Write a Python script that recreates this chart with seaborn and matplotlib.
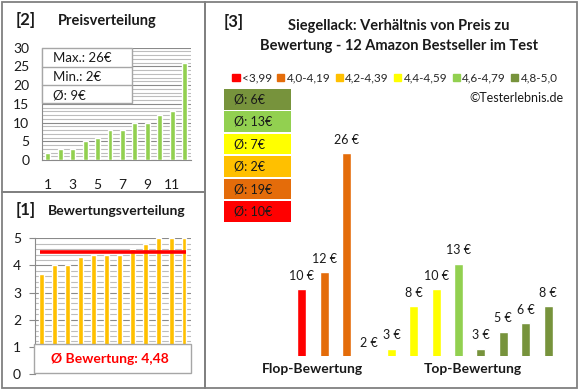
import matplotlib
matplotlib.use("Agg")
import matplotlib.pyplot as plt
import matplotlib.patches as mpatches
import pandas as pd
import seaborn as sns

# ratings of the 12 products (sorted) and their prices in the same order
ratings = [3.7, 4.0, 4.0, 4.3, 4.4, 4.4, 4.4, 4.6, 4.8, 5.0, 5.0, 5.0]
prices = [10, 12, 26, 2, 3, 8, 10, 13, 3, 5, 6, 8]
groups = ['<3,99', '4,0-4,19', '4,0-4,19', '4,2-4,39', '4,4-4,59', '4,4-4,59',
          '4,4-4,59', '4,6-4,79', '4,8-5,0', '4,8-5,0', '4,8-5,0', '4,8-5,0']
group_names = ['<3,99', '4,0-4,19', '4,2-4,39', '4,4-4,59', '4,6-4,79', '4,8-5,0']
group_colors = ['#ff0000', '#e46c0a', '#ffc000', '#ffff00', '#92d050', '#77933c']
avg_rating_text = '4,48'
price_ticks = [1, 3, 5, 7, 9, 11]

sns.set_style('white')
plt.rcParams['font.family'] = ['Lato', 'DejaVu Sans']

W, H = 580, 390
fig = plt.figure(figsize=(5.8, 3.9), dpi=100)


def px(x0, y0, x1, y1):
    return [x0 / W, 1 - y1 / H, (x1 - x0) / W, (y1 - y0) / H]


palette = dict(zip(group_names, group_colors))
df = pd.DataFrame({'idx': range(12), 'rating': ratings, 'price': prices, 'group': groups})
grid_minor = '#bdbdbd'
grid_major = '#8a8a8a'
txt = '#1a1a1a'

# ---- [2] Preisverteilung
ax2 = fig.add_axes(px(41.7, 47.7, 190.7, 160))
sorted_prices = sorted(prices)
sns.barplot(x=list(range(1, 13)), y=sorted_prices, color='#92d050', width=0.4,
            saturation=1, ax=ax2, zorder=3)
ax2.set_ylim(0, 30)
ax2.set_xlim(-0.5, 11.5)
for v in range(31):
    ax2.axhline(v, color=grid_major if v % 5 == 0 else grid_minor, lw=0.8, zorder=1)
ax2.set_yticks(range(0, 31, 5))
ax2.set_xticks([t - 1 for t in price_ticks])
ax2.set_xticklabels([str(t) for t in price_ticks])
ax2.tick_params(axis='y', length=0, pad=9, labelsize=10, labelcolor=txt)
ax2.tick_params(axis='x', length=0, pad=14, labelsize=10, labelcolor=txt)
for s in ['top', 'right']:
    ax2.spines[s].set_visible(False)
for s in ['left', 'bottom']:
    ax2.spines[s].set_color('#8a8a8a')
    ax2.spines[s].set_linewidth(0.8)

# ---- [1] Bewertungsverteilung
ax1 = fig.add_axes(px(35, 238.3, 190.7, 374))
sns.barplot(data=df, x='idx', y='rating', color='#ffc000', width=0.38,
            saturation=1, ax=ax1, zorder=3)
ax1.set_ylim(0, 5)
ax1.set_xlim(-0.52, 11.52)
for i in range(26):
    v = i * 0.2
    ax1.axhline(v, color=grid_major if i % 5 == 0 else grid_minor, lw=0.8, zorder=1)
ax1.hlines(float(avg_rating_text.replace(',', '.')), -0.15, 11.15, color='#ff0000',
           lw=2.6, zorder=4)
ax1.set_yticks(range(0, 6))
ax1.set_xticks([])
ax1.set_xlabel('')
ax1.set_ylabel('')
ax1.tick_params(axis='y', length=4, width=0.8, color='#8a8a8a', pad=6, labelsize=10,
                labelcolor=txt, left=True)
for s in ['top', 'right', 'bottom']:
    ax1.spines[s].set_visible(False)
ax1.spines['left'].set_color('#8a8a8a')
ax1.spines['left'].set_linewidth(0.8)

# ---- [3] price vs rating
ax3 = fig.add_axes(px(280, 130, 570, 356))
sns.barplot(data=df, x='idx', y='price', hue='group', palette=palette, dodge=False,
            width=0.4, saturation=1, legend=False, ax=ax3)
ymin = 2.14
ax3.set_ylim(ymin, ymin + 226 / 8.5)
ax3.set_xlim(-0.98, 11.98)
ax3.axis('off')
for i, p in enumerate(prices):
    ax3.annotate(f'{p} €', xy=(i, max(p, ymin)), xytext=(0, 9.5), textcoords='offset points',
                 ha='center', va='center', fontsize=9, color=txt, annotation_clip=False)
handles = [mpatches.Patch(color=c, label=n) for n, c in zip(group_names, group_colors)]
ax3.legend(handles=handles, loc='center', bbox_to_anchor=(395 / W, 1 - 78 / H),
           bbox_transform=fig.transFigure, ncol=6, frameon=False, fontsize=8.5,
           handlelength=0.6, handleheight=0.6, handletextpad=0.2, columnspacing=0.45,
           borderpad=0, borderaxespad=0)

# ---- overlay: panel frames, headings and boxes
ov = fig.add_axes([0, 0, 1, 1], zorder=10)
ov.set_xlim(0, W)
ov.set_ylim(H, 0)
ov.axis('off')
frame = dict(fill=False, edgecolor='#808080', lw=1.3)
ov.add_patch(mpatches.Rectangle((1.5, 1.5), 203.5, 190.5, **frame))
ov.add_patch(mpatches.Rectangle((1.5, 192), 203.5, 196, **frame))
ov.add_patch(mpatches.Rectangle((205, 1.5), 372, 386.5, **frame))

ov.text(16, 20, '[2]', fontsize=12, fontweight='bold', va='center', color=txt)
ov.text(58, 21, 'Preisverteilung', fontsize=10.5, fontweight='bold', va='center', color=txt)
ov.text(16, 210, '[1]', fontsize=12, fontweight='bold', va='center', color=txt)
ov.text(48, 211, 'Bewertungsverteilung', fontsize=10, fontweight='bold', va='center', color=txt)
ov.text(224, 22, '[3]', fontsize=12, fontweight='bold', va='center', color=txt)
ov.text(399, 26, 'Siegellack: Verhältnis von Preis zu', fontsize=10.5, fontweight='bold',
        ha='center', va='center', color=txt)
ov.text(399, 46, 'Bewertung - 12 Amazon Bestseller im Test', fontsize=10.5, fontweight='bold',
        ha='center', va='center', color=txt)
ov.text(563, 98, '©Testerlebnis.de', fontsize=9, ha='right', va='center', color=txt)
ov.text(312, 369, 'Flop-Bewertung', fontsize=10, fontweight='bold', ha='center', va='center', color=txt)
ov.text(473, 369, 'Top-Bewertung', fontsize=10, fontweight='bold', ha='center', va='center', color=txt)

# price statistics box
ov.add_patch(mpatches.Rectangle((41.7, 47.7), 90, 55.6, facecolor='white', edgecolor='#a6a6a6', lw=1))
for y in [66.7, 85]:
    ov.plot([41.7, 131.7], [y, y], color='#a6a6a6', lw=1)
stats = [f'Max.: {max(prices)}€', f'Min.: {min(prices)}€',
         f'Ø: {int(sum(prices) / len(prices) + 0.5)}€']
for y, s in zip([58.5, 77, 95], stats):
    ov.text(52.7, y, s, fontsize=9.5, va='center', color=txt)

# average rating box
ov.add_patch(mpatches.Rectangle((34.3, 344.3), 156.4, 29, facecolor='white', edgecolor='#a6a6a6', lw=1))
ov.text(110, 359, f'Ø Bewertung: {avg_rating_text}', fontsize=10, fontweight='bold',
        color='#ff0000', ha='center', va='center')

# average price per rating group
avg_by_group = df.groupby('group')['price'].mean()
for k, (name, col) in enumerate(zip(group_names[::-1], group_colors[::-1])):
    y0 = 89 + k * 22.4
    ov.add_patch(mpatches.Rectangle((224, y0), 67, 20.5, facecolor=col, edgecolor='none'))
    ov.text(234, y0 + 10.5, f'Ø: {int(avg_by_group[name] + 0.5)}€', fontsize=9,
            va='center', color=txt)

fig.savefig('out.png', dpi=100)
